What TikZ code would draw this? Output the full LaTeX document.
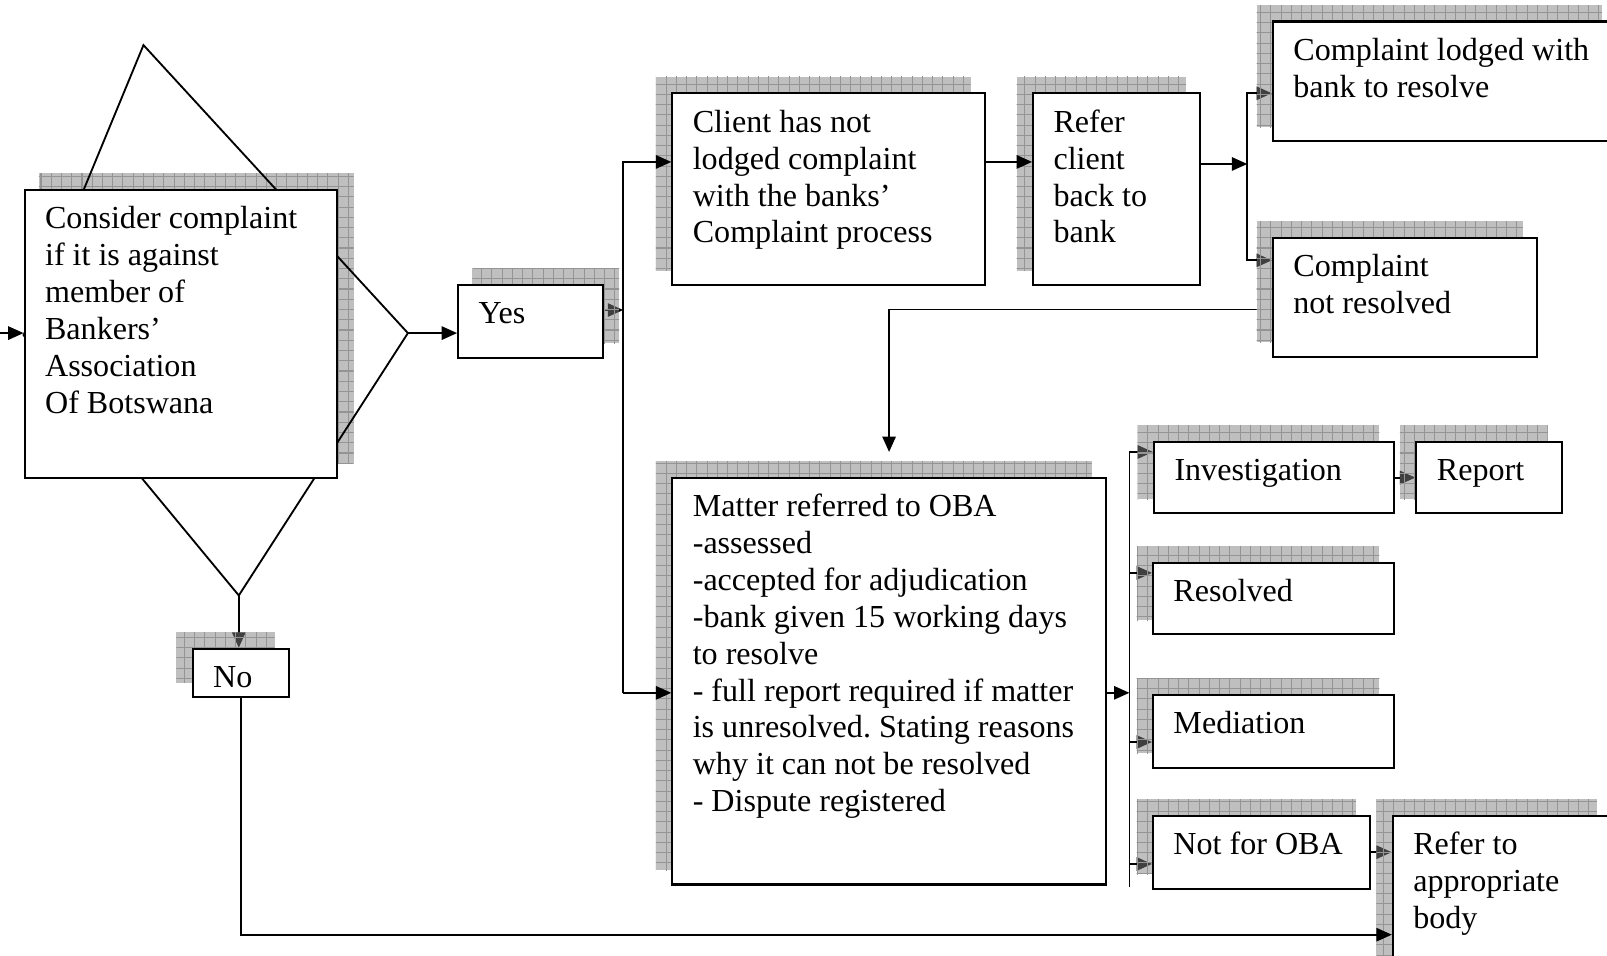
\documentclass[tikz,border=0pt]{standalone}
\usepackage{fontspec}
\setmainfont{Liberation Serif}
\usetikzlibrary{arrows.meta,patterns,calc}

\pgfdeclarelayer{under}
\pgfdeclarelayer{shade}
\pgfsetlayers{under,shade,main}

\pgfdeclarepatternformonly{shadegrid}{\pgfqpoint{-1pt}{-1pt}}{\pgfqpoint{11pt}{11pt}}{\pgfqpoint{10pt}{10pt}}{%
  \pgfsetlinewidth{1pt}%
  \pgfpathmoveto{\pgfqpoint{0pt}{0pt}}\pgfpathlineto{\pgfqpoint{10.1pt}{0pt}}%
  \pgfpathmoveto{\pgfqpoint{0pt}{0pt}}\pgfpathlineto{\pgfqpoint{0pt}{10.1pt}}%
  \pgfusepath{stroke}}

\tikzset{
  box/.style={draw, fill=white, line width=2pt, anchor=north west, align=flush left,
    inner xsep=20pt, inner ysep=0pt, text height=38pt,
    font=\fontsize{31.3}{36}\selectfont\frenchspacing},
  arr/.style={line width=1.8pt, -{Triangle[length=15pt,width=13pt]}},
  shade/.style={fill=black!50, fill opacity=0.5,
    postaction={pattern=shadegrid, pattern color=black!42, fill opacity=0.5}},
}

\begin{document}
\begin{tikzpicture}[x=1pt, y=-1pt]
  \useasboundingbox (0,0) rectangle (1568,932);

  % decision shape behind the first box
  \coordinate (dtop) at (140,44);
  \coordinate (dright) at (398,325);
  \coordinate (dbot) at (233,581);
  \coordinate (dleft) at (23,327);
  \draw[line width=1.8pt] (dtop) -- (dright) -- (dbot) -- (dleft) -- cycle;

  \node[box, text width=265pt, text depth=243pt] (consider) at (23,184)
    {Consider complaint\\if it is against\\member of\\Bankers’\\Association\\Of Botswana};
  \node[box, text width=101pt, text depth=33pt] (yes) at (446,277) {Yes};
  \node[box, text width=54pt, text depth=9pt] (no) at (187,632) {No};
  \node[box, text width=265pt, text depth=149pt] (client) at (655,90)
    {Client has not\\lodged complaint\\with the banks’\\Complaint process};
  \node[box, text width=123pt, text depth=149pt] (refer) at (1007,90)
    {Refer\\client\\back to\\bank};
  \node[box, text width=295pt, text depth=79pt] (lodged) at (1241,20)
    {Complaint lodged with\\bank to resolve};
  \node[box, text width=218pt, text depth=78pt] (unres) at (1241,231)
    {Complaint\\not resolved};
  \node[box, text width=383pt, text depth=359pt] (matter) at (655,465)
    {Matter referred to OBA\\-assessed\\-accepted for adjudication\\-bank given 15 working days\\to resolve\\- full report required if matter\\is unresolved. Stating reasons\\why it can not be resolved\\- Dispute registered};
  \node[box, text width=194pt, text depth=32pt] (invest) at (1125,430) {Investigation};
  \node[box, text width=102pt, text depth=32pt] (report) at (1381,430) {Report};
  \node[box, text width=195pt, text depth=32pt] (resolved) at (1124,548) {Resolved};
  \node[box, text width=195pt, text depth=33pt] (mediation) at (1124,677) {Mediation};
  \node[box, text width=172pt, text depth=33pt] (notoba) at (1124,795) {Not for OBA};
  \node[box, text width=173pt, text depth=112pt] (appropriate) at (1358,795)
    {Refer to\\appropriate\\body};

  % shadows
  \begin{pgfonlayer}{shade}
    \foreach \n/\s in {consider/1, yes/1, no/-1, client/-1, refer/-1, lodged/-1, unres/-1,
        matter/-1, invest/-1, report/-1, resolved/-1, mediation/-1, notoba/-1, appropriate/-1}
      \fill[shade] ([shift={({\s*15pt},15pt)}]\n.south west) rectangle ([shift={({\s*15pt},15pt)}]\n.north east);
  \end{pgfonlayer}

  \coordinate (in) at (0,325);
  \coordinate (bus1top) at (608,158);
  \coordinate (bus1bot) at (608,676);
  \coordinate (j2) at (1217,160);
  \coordinate (b2top) at (1217,91);
  \coordinate (b2bot) at (1217,254);
  \coordinate (b3top) at (1102,441);
  \coordinate (b3bot) at (1102,865);
  \coordinate (low) at (0,912);
  \coordinate (yesout) at ([yshift=11pt]yes.east);

  % connectors on top
  \draw[arr] (in) -- (in -| consider.west);
  \draw[arr] (dright) -- (dright -| yes.west);
  \draw[arr] (bus1bot) -- (bus1top) -- (bus1top -| client.west);
  \draw[arr] (bus1top -| client.east) -- (bus1top -| refer.west);
  \draw[arr] (bus1bot) -- (bus1bot -| matter.west);
  \draw[arr] (j2 -| refer.east) -- (j2);
  \draw[arr] (bus1bot -| matter.east) -- (bus1bot -| b3top);
  \draw[arr] (no.south) |- (low -| appropriate.west);

  % connectors under the shadows
  \begin{pgfonlayer}{under}
    \draw[arr] (yesout) -- (yesout -| bus1top);
    \draw[arr] (j2) -- (b2top) -- (b2top -| lodged.west);
    \draw[arr] (j2) -- (b2bot) -- (b2bot -| unres.west);
    \draw[arr, shorten >=24pt] ([yshift=-12pt]unres.west) -| (matter.north);
    \draw[line width=1.8pt] (b3top) -- (b3bot);
    \foreach \n/\d in {invest/11pt, resolved/11pt, mediation/47pt, notoba/48pt}{
      \coordinate (tip) at ([yshift=-\d]\n.north west);
      \draw[arr] (tip -| b3top) -- (tip);
    }
    \draw[arr] (invest) -- (report);
    \draw[arr] (notoba.east) -- (notoba.east -| appropriate.west);
    \draw[arr] (dbot) -- (dbot |- no.north);
  \end{pgfonlayer}
\end{tikzpicture}
\end{document}
